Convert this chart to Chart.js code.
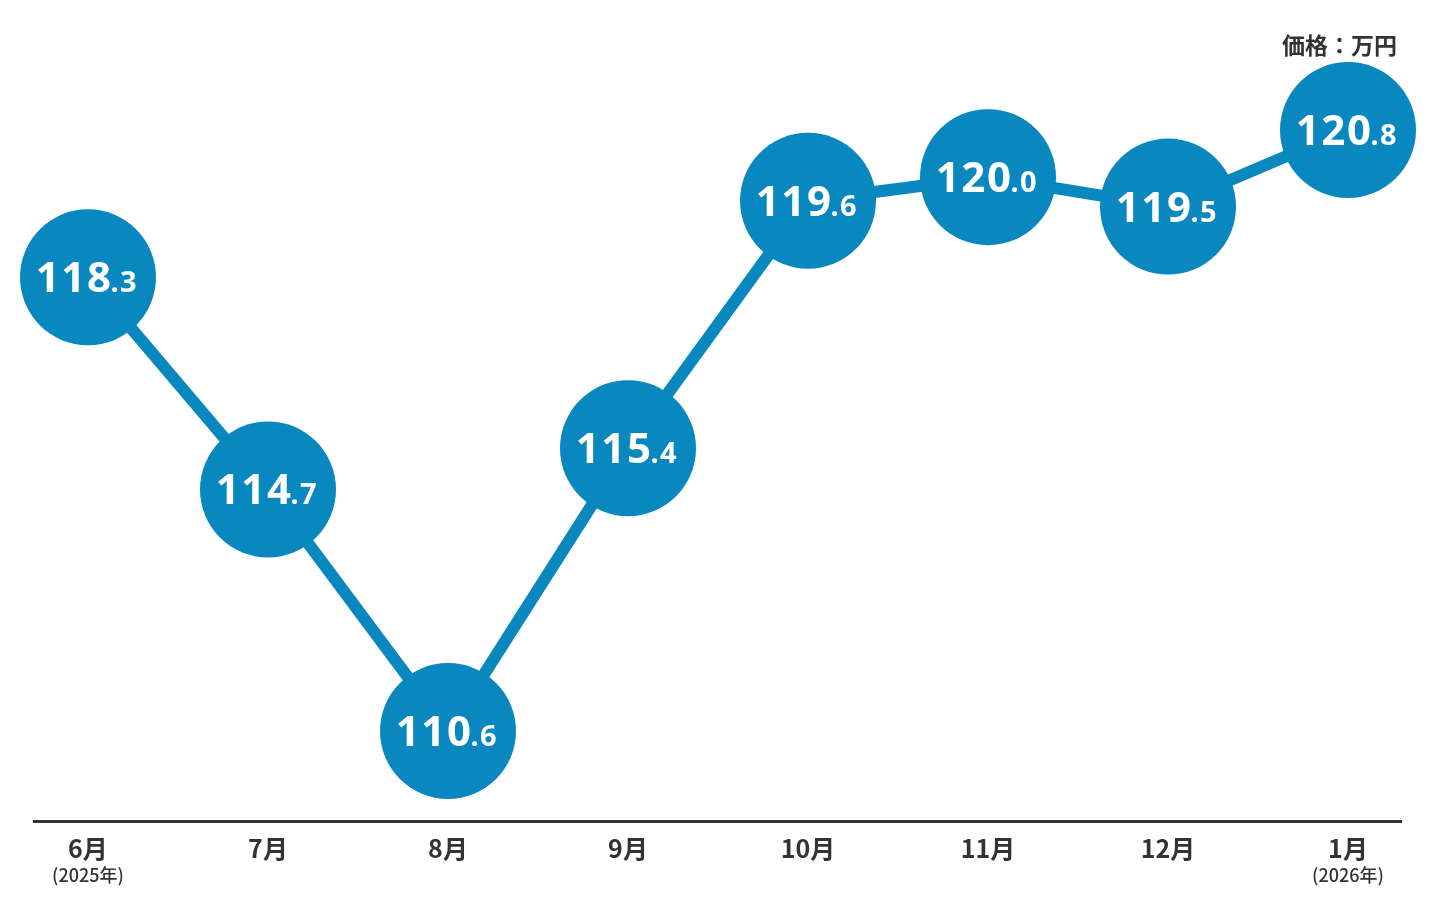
<!DOCTYPE html>
<html>
<head>
<meta charset="utf-8">
<script src="https://cdn.jsdelivr.net/npm/chart.js@4.4.0/dist/chart.umd.min.js"></script>
<style>
  html, body { margin: 0; padding: 0; background: #fff; }
  canvas { display: block; }
</style>
</head>
<body>
<canvas id="chart" width="1436" height="914"></canvas>
<script>
const months = ['6月', '7月', '8月', '9月', '10月', '11月', '12月', '1月'];
const years = ['(2025年)', '', '', '', '', '', '', '(2026年)'];
const prices = [118.3, 114.7, 110.6, 115.4, 119.6, 120.0, 119.5, 120.8];
const unitLabel = '価格：万円';

const BLUE = '#0987bf';
const DARK = '#333333';

// circle labels: integer part large, decimal part smaller
const valueLabels = {
    id: 'valueLabels',
    afterDatasetsDraw(chart) {
        const ctx = chart.ctx;
        const meta = chart.getDatasetMeta(0);
        ctx.save();
        ctx.fillStyle = '#fff';
        ctx.textBaseline = 'alphabetic';
        ctx.letterSpacing = '1.5px';
        meta.data.forEach((pt, i) => {
            const parts = prices[i].toFixed(1).split('.');
            const big = parts[0];
            const small = '.' + parts[1];
            ctx.font = 'bold 42px "Noto Sans"';
            const wBig = ctx.measureText(big).width;
            ctx.font = 'bold 29px "Noto Sans"';
            const wSmall = ctx.measureText(small).width;
            const x0 = pt.x - (wBig + wSmall) / 2;
            const base = pt.y + 15;
            ctx.textAlign = 'left';
            ctx.font = 'bold 42px "Noto Sans"';
            ctx.fillText(big, x0, base);
            ctx.font = 'bold 29px "Noto Sans"';
            ctx.fillText(small, x0 + wBig - 2, base);
        });
        ctx.restore();
    }
};

// baseline and month labels below it
const axisDecor = {
    id: 'axisDecor',
    afterDraw(chart) {
        const ctx = chart.ctx;
        const xs = chart.scales.x;
        ctx.save();
        ctx.strokeStyle = DARK;
        ctx.lineWidth = 3;
        ctx.beginPath();
        ctx.moveTo(33, 821.5);
        ctx.lineTo(1402, 821.5);
        ctx.stroke();

        ctx.fillStyle = DARK;
        ctx.textAlign = 'center';
        ctx.textBaseline = 'middle';
        months.forEach((m, i) => {
            const x = xs.getPixelForValue(i);
            ctx.font = 'bold 25px "Noto Sans CJK JP"';
            ctx.fillText(m, x, 848);
            if (years[i]) {
                ctx.font = '500 18px "Noto Sans CJK JP"';
                ctx.fillText(years[i], x, 875);
            }
        });

        ctx.textAlign = 'right';
        ctx.font = 'bold 23px "Noto Sans CJK JP"';
        ctx.fillText(unitLabel, 1397, 45);
        ctx.restore();
    }
};

new Chart(document.getElementById('chart').getContext('2d'), {
    type: 'line',
    data: {
        labels: months,
        datasets: [{
            data: prices,
            borderColor: BLUE,
            borderWidth: 12,
            backgroundColor: BLUE,
            pointBackgroundColor: BLUE,
            pointBorderWidth: 0,
            pointRadius: 68,
            pointHoverRadius: 68,
            tension: 0,
            clip: false
        }]
    },
    options: {
        responsive: false,
        animation: false,
        events: [],
        layout: {
            autoPadding: false,
            padding: { top: 21, bottom: 28, left: 88, right: 88 }
        },
        scales: {
            x: { display: false, offset: false },
            y: { display: false, min: 107.97, max: 122.65 }
        },
        plugins: {
            legend: { display: false },
            tooltip: { enabled: false }
        }
    },
    plugins: [valueLabels, axisDecor]
});
</script>
</body>
</html>
